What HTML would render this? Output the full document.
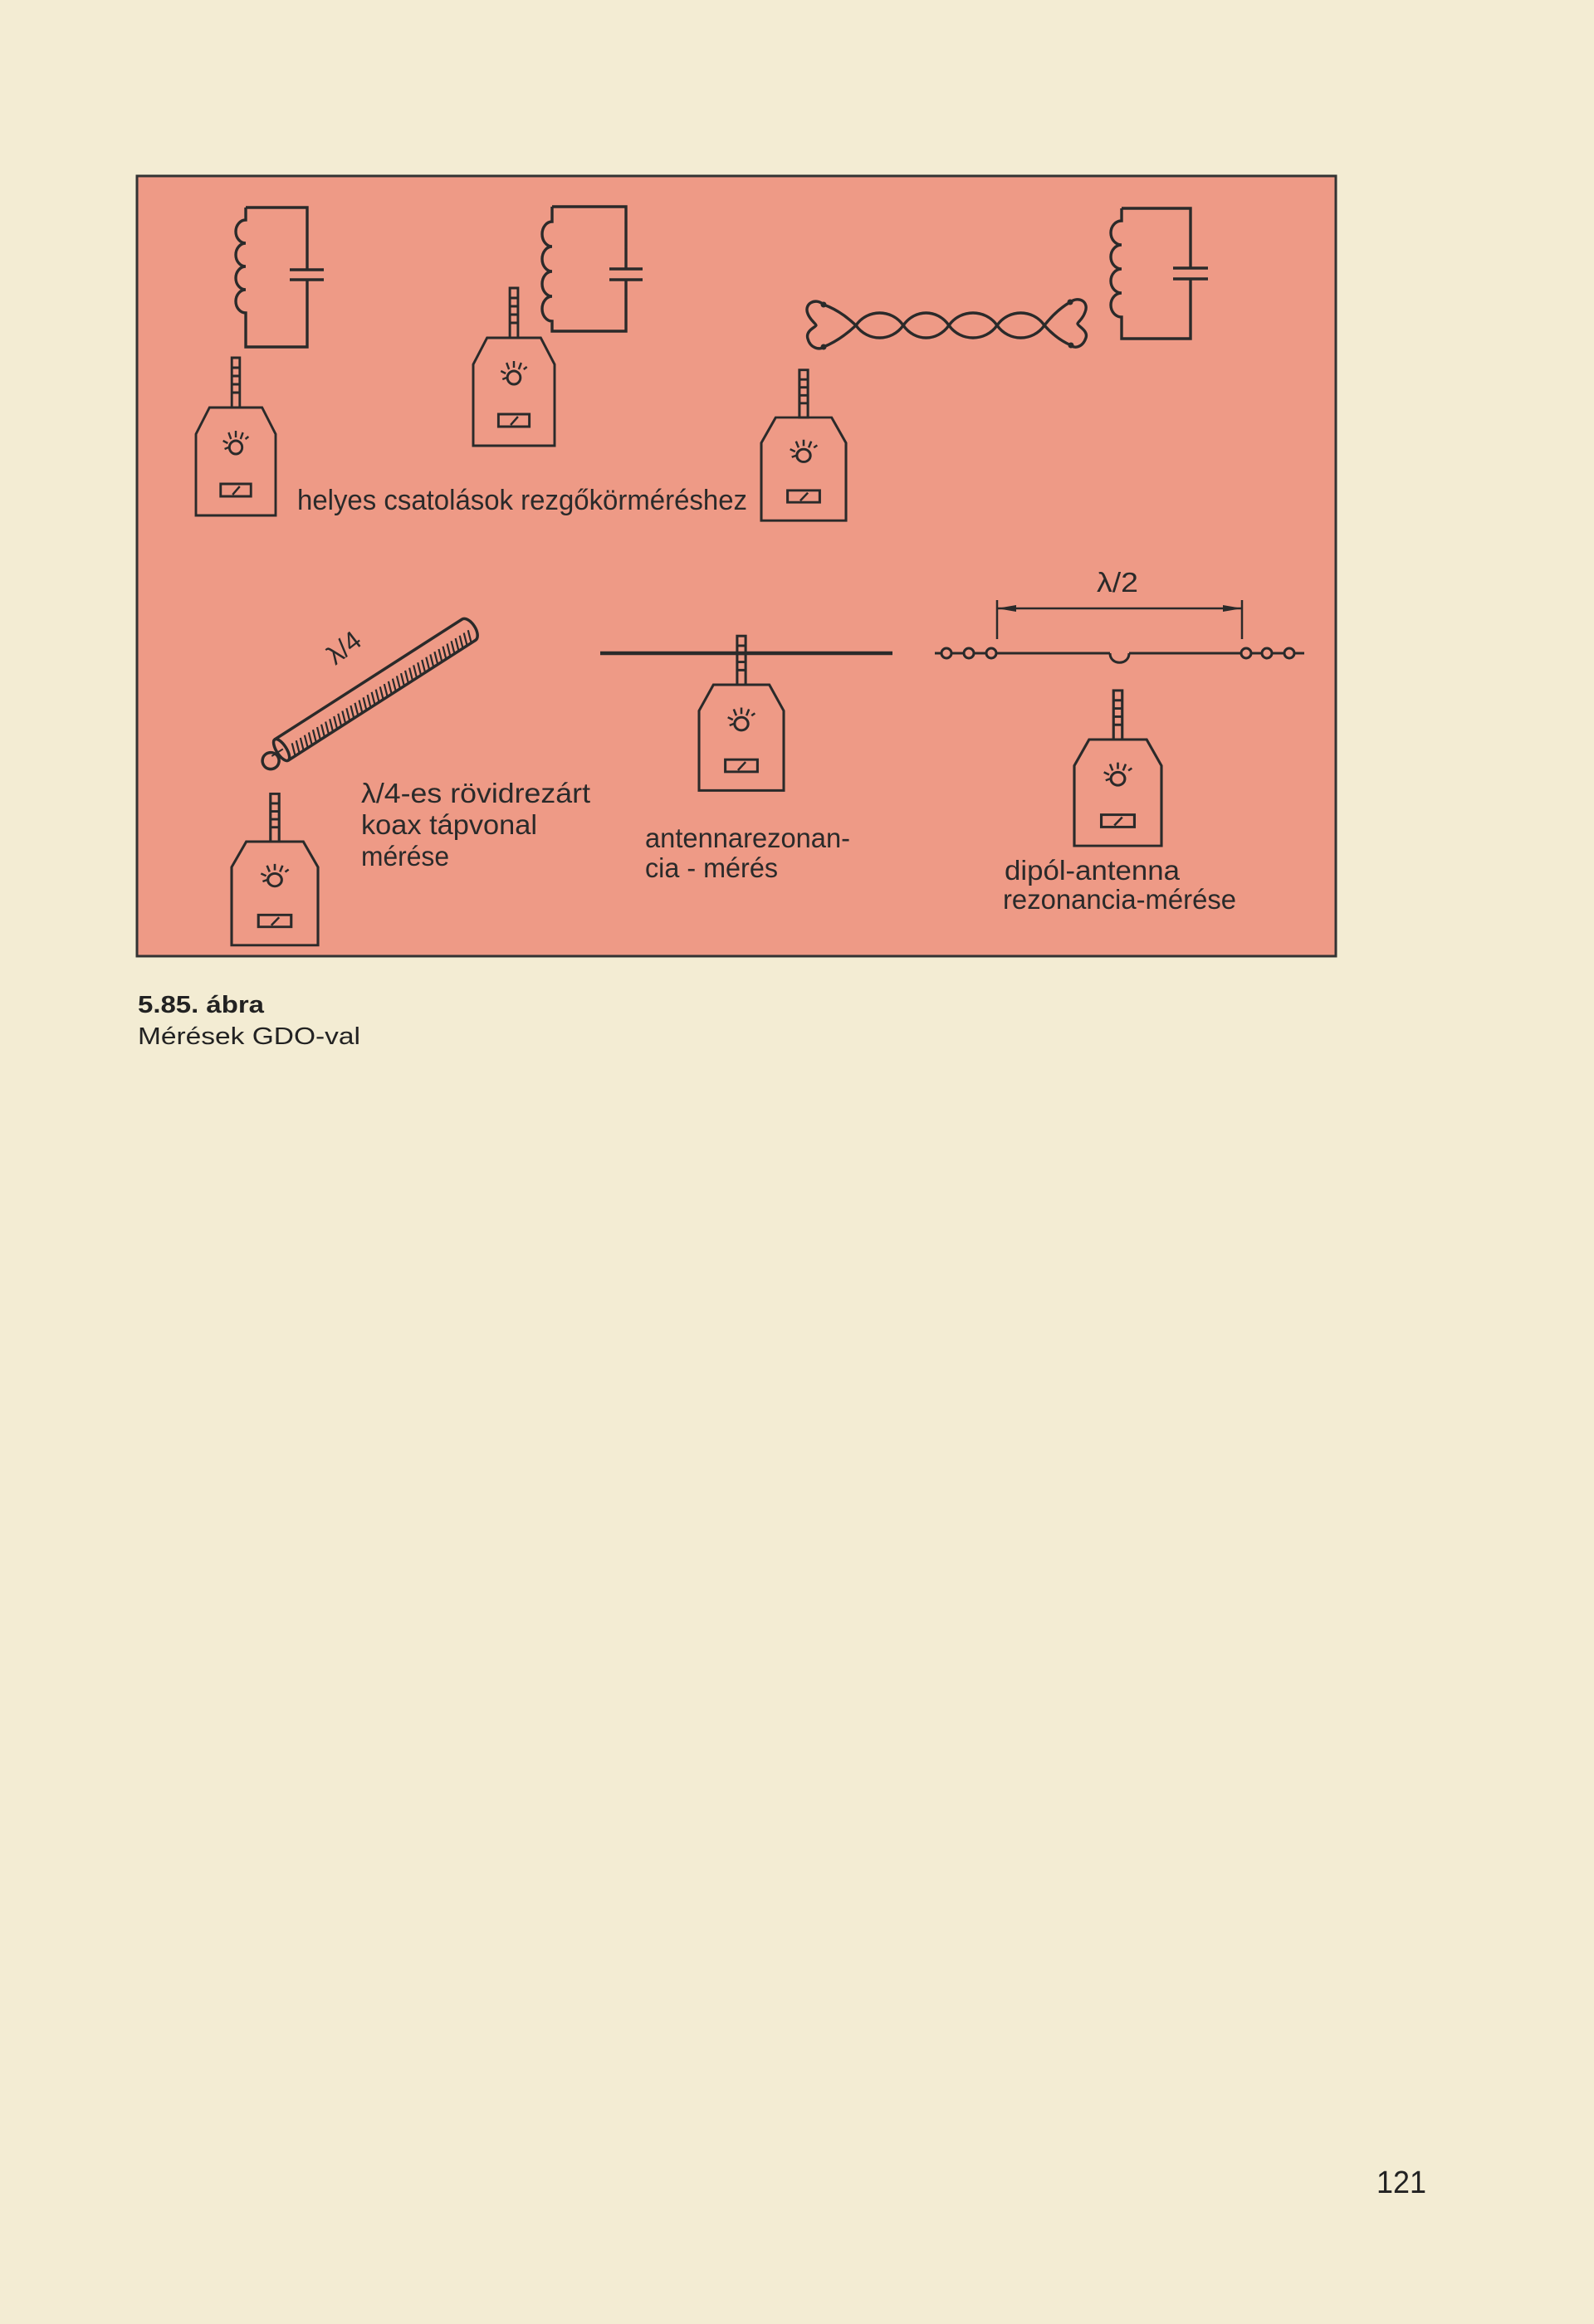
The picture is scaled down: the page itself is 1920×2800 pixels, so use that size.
<!DOCTYPE html>
<html><head><meta charset="utf-8"><style>
html,body{margin:0;padding:0;background:#f3ecd3;}
svg{display:block}
</style></head><body>
<svg width="1920" height="2800" viewBox="0 0 1920 2800" xmlns="http://www.w3.org/2000/svg">
<defs>
<g id="gdo" fill="none" stroke="#2a2a2a" stroke-width="3">
  <rect x="45" y="-60" width="10" height="60"/>
  <path d="M45,-48H55M45,-38H55M45,-28H55M45,-18H55"/>
  <path d="M17,0H83L100,32V130H0V32Z"/>
  <circle cx="50" cy="48" r="8"/>
  <path d="M50,28V36M41,30L44,38M59,30L56,38M34,40L40,43M62,38L66,35M36,50L41,48" stroke-width="2.5"/>
  <rect x="31" y="92" width="38" height="15" stroke-width="3"/>
  <path d="M46,105L55,95" stroke-width="2.5"/>
</g>
</defs>
<rect width="1920" height="2800" fill="#f3ecd3"/>
<rect x="165" y="212" width="1444" height="940" fill="#ee9a86" stroke="#333" stroke-width="3"/>

<g fill="none" stroke="#2a2a2a" stroke-width="3.4">
  <path d="M296,250H370V325M370,337V418H296V377a12,14 0 0 1 0,-28a12,14 0 0 1 0,-28a12,14 0 0 1 0,-28a12,14 0 0 1 0,-28V250"/>
  <path d="M349,325H390M349,337H390"/>
  <path d="M665,249H754V324M754,337V399H665V387a12,15 0 0 1 0,-30a12,15 0 0 1 0,-30a12,15 0 0 1 0,-30a12,15 0 0 1 0,-30V249"/>
  <path d="M734,324H774M734,337H774"/>
  <path d="M1351,251H1434V323M1434,336V408H1351V382a13,14.5 0 0 1 0,-29a13,14.5 0 0 1 0,-29a13,14.5 0 0 1 0,-29a13,14.5 0 0 1 0,-29V251"/>
  <path d="M1413,323H1455M1413,336H1455"/>
  <path d="M992,367Q1012,374 1031,392C1045,412 1074,412 1088,392C1102,372 1129,372 1143,392C1157,412 1187,412 1201,392C1215,372 1244,372 1258,392Q1272,408 1290,416"/>
  <path d="M992,418Q1012,410 1031,392C1045,372 1074,372 1088,392C1102,412 1129,412 1143,392C1157,372 1187,372 1201,392C1215,412 1244,412 1258,392Q1272,374 1289,364"/>
  <path d="M992,367C982,358 968,366 973,378C976,386 983,390 983,392C983,394 970,398 973,408C976,420 988,422 992,418"/>
  <path d="M1289,364C1300,356 1312,364 1307,376C1304,385 1298,388 1298,390C1298,393 1311,398 1308,407C1304,419 1294,420 1290,416"/>
</g>
<g fill="#2a2a2a"><circle cx="992" cy="367" r="3.5"/><circle cx="992" cy="418" r="3.5"/><circle cx="1289" cy="364" r="3.5"/><circle cx="1290" cy="416" r="3.5"/></g>

<use href="#gdo" transform="translate(236,491) scale(0.96,1)"/>
<use href="#gdo" transform="translate(570,407) scale(0.98,1)"/>
<use href="#gdo" transform="translate(917,503) scale(1.02,0.955)"/>
<use href="#gdo" transform="translate(279,1014) scale(1.04,0.96)"/>
<use href="#gdo" transform="translate(842,825) scale(1.02,0.98)"/>
<use href="#gdo" transform="translate(1294,891) scale(1.05,0.985)"/>

<g font-family="'Liberation Sans', 'DejaVu Sans', sans-serif" fill="#2a2a2a">
  <text x="358" y="614" font-size="34" textLength="542" lengthAdjust="spacingAndGlyphs">helyes csatolások rezgőkörméréshez</text>
  <text x="435" y="967" font-size="33" textLength="276" lengthAdjust="spacingAndGlyphs">λ/4-es rövidrezárt</text>
  <text x="435" y="1005" font-size="33" textLength="212" lengthAdjust="spacingAndGlyphs">koax tápvonal</text>
  <text x="435" y="1043" font-size="33" textLength="106" lengthAdjust="spacingAndGlyphs">mérése</text>
  <text x="777" y="1021" font-size="33" textLength="247" lengthAdjust="spacingAndGlyphs">antennarezonan-</text>
  <text x="777" y="1057" font-size="33" textLength="160" lengthAdjust="spacingAndGlyphs">cia - mérés</text>
  <text x="1210" y="1060" font-size="33" textLength="211" lengthAdjust="spacingAndGlyphs">dipól-antenna</text>
  <text x="1208" y="1095" font-size="33" textLength="281" lengthAdjust="spacingAndGlyphs">rezonancia-mérése</text>
  <text x="1321" y="713" font-size="33" textLength="50" lengthAdjust="spacingAndGlyphs">λ/2</text>
  <text x="0" y="0" font-size="32" transform="translate(404,802) rotate(-38)">λ/4</text>
</g>

<path d="M723,787H1075" stroke="#2a2a2a" stroke-width="4.5"/>

<g fill="none" stroke="#2a2a2a" stroke-width="3">
  <path d="M1126,787H1134M1146,787H1161M1173,787H1188M1200,787H1337M1360,787H1495M1507,787H1520M1532,787H1547M1559,787H1571"/>
  <path d="M1337,787C1337,802 1360,802 1360,787"/>
  <circle cx="1140" cy="787" r="6"/><circle cx="1167" cy="787" r="6"/><circle cx="1194" cy="787" r="6"/>
  <circle cx="1501" cy="787" r="6"/><circle cx="1526" cy="787" r="6"/><circle cx="1553" cy="787" r="6"/>
  <path d="M1201,723V770M1496,723V770M1201,733H1496" stroke-width="2.5"/>
</g>
<path d="M1201,733L1224,729V737Z M1496,733L1473,729V737Z" fill="#2a2a2a"/>

<g transform="translate(329,910) rotate(-32.7)" fill="none" stroke="#2a2a2a" stroke-width="3.5">
  <path d="M12,-15H280A8,15 0 0 1 280,15H12"/>
  <ellipse cx="12" cy="0" rx="6" ry="15"/>
  <circle cx="-6" cy="4" r="10"/>
  <path d="M14,0H-2" stroke-width="2"/>
  <g stroke-width="2.2">
    <path d="M22,15L27,0M28,15L33,0M34,15L39,0M40,15L45,0M46,15L51,0M52,15L57,0M58,15L63,0M64,15L69,0M70,15L75,0M76,15L81,0M82,15L87,0M88,15L93,0M94,15L99,0M100,15L105,0M106,15L111,0M112,15L117,0M118,15L123,0M124,15L129,0M130,15L135,0M136,15L141,0M142,15L147,0M148,15L153,0M154,15L159,0M160,15L165,0M166,15L171,0M172,15L177,0M178,15L183,0M184,15L189,0M190,15L195,0M196,15L201,0M202,15L207,0M208,15L213,0M214,15L219,0M220,15L225,0M226,15L231,0M232,15L237,0M238,15L243,0M244,15L249,0M250,15L255,0M256,15L261,0M262,15L267,0M268,15L273,0M274,15L279,0"/>
  </g>
</g>

<g font-family="'Liberation Sans', sans-serif" fill="#222">
  <text x="166" y="1220" font-size="29" font-weight="bold" textLength="152" lengthAdjust="spacingAndGlyphs">5.85. ábra</text>
  <text x="166" y="1258" font-size="29" textLength="268" lengthAdjust="spacingAndGlyphs">Mérések GDO-val</text>
  <text x="1658" y="2642" font-size="38" textLength="60" lengthAdjust="spacingAndGlyphs">121</text>
</g>
</svg>
</body></html>
